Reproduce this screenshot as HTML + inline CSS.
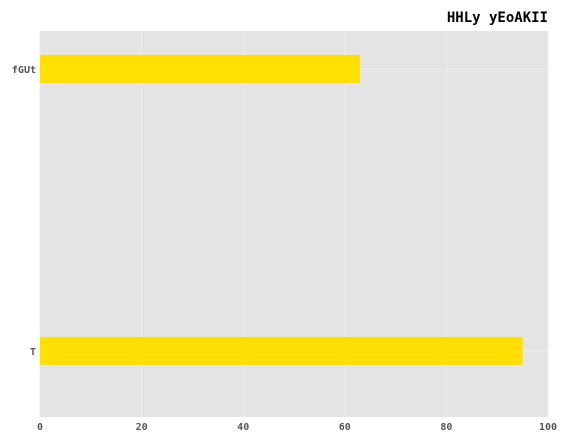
<!DOCTYPE html>
<html><head><meta charset="utf-8"><style>
html,body{margin:0;padding:0;background:#fff;}
svg text{font-family:"DejaVu Sans Mono","Liberation Mono",monospace;font-weight:bold;}
</style></head><body>
<svg id="chart" width="567" height="441" xmlns="http://www.w3.org/2000/svg">
<rect x="40" y="31" width="508" height="386" fill="#e4e4e4"/>
<g id="grid"></g><g id="bars"></g><g id="axes"></g>
<text x="548" y="22" text-anchor="end" font-size="14" fill="#000">HHLy yEoAKII</text>
</svg>
<script>
const categories = ["T", "fGUt"];
const values = [95, 63];
const xTicks = [0, 20, 40, 60, 80, 100];
const NS = "http://www.w3.org/2000/svg";
const x = v => 40 + v / 100 * 508;
const y = i => 351 - i * 282;
function mk(tag, attrs, parent) {
  const e = document.createElementNS(NS, tag);
  for (const k in attrs) e.setAttribute(k, attrs[k]);
  document.getElementById(parent).appendChild(e);
  return e;
}
xTicks.forEach(t => {
  const g = mk("line", {x1: x(t), x2: x(t), y1: 31, y2: 417, stroke: "#ececec", "stroke-width": 1}, "grid");
  
  
  const l = mk("text", {x: x(t), y: 430, "text-anchor": "middle", "font-size": 10, fill: "#555"}, "axes");
  l.textContent = t;
  
  
});
categories.forEach((c, i) => {
  const g = mk("line", {x1: 40, x2: 548, y1: y(i), y2: y(i), stroke: "#ececec", "stroke-width": 1}, "grid");
  
  
  const b = mk("rect", {x: x(0), y: y(i) - 14, width: x(values[i]) - x(0), height: 28, fill: "#ffe000"}, "bars");
  
  
  const l = mk("text", {x: 36, y: y(i) + 4, "text-anchor": "end", "font-size": 10, fill: "#555"}, "axes");
  l.textContent = c;
  
  
});
</script>
</body></html>
